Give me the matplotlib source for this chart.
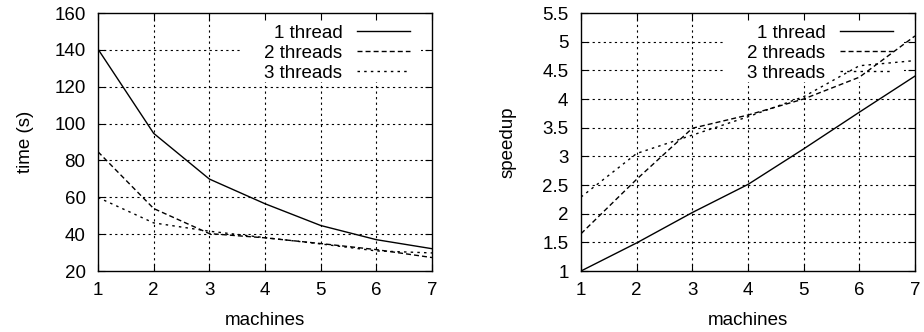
import matplotlib
matplotlib.use("Agg")
import matplotlib.pyplot as plt
from matplotlib.patches import Rectangle

plt.rcParams['font.family'] = ['Liberation Sans', 'DejaVu Sans']
plt.rcParams['font.size'] = 13.5

machines = [1, 2, 3, 4, 5, 6, 7]
labels = ["1 thread", "2 threads", "3 threads"]

time_1 = [140.4, 94.7, 69.9, 56.5, 44.7, 37.0, 32.1]
time_2 = [84.7, 53.9, 40.3, 38.0, 34.9, 31.6, 27.3]
time_3 = [59.9, 46.1, 41.6, 38.1, 34.7, 30.9, 29.8]

speed_1 = [1.0, 1.49, 2.02, 2.51, 3.13, 3.77, 4.40]
speed_2 = [1.65, 2.60, 3.49, 3.72, 4.00, 4.38, 5.10]
speed_3 = [2.29, 3.05, 3.37, 3.69, 4.04, 4.58, 4.67]

time_ticks = [20, 40, 60, 80, 100, 120, 140, 160]
speed_ticks = [1, 1.5, 2, 2.5, 3, 3.5, 4, 4.5, 5, 5.5]

styles = ['-', (0, (3.6, 2.2)), (0, (1.8, 3.0))]

W, H = 924, 332
fig = plt.figure(figsize=(W / 100, H / 100), dpi=100)

AX_TOP, AX_BOT = 13, 271
AX_W = 334

def make_ax(left_px):
    return fig.add_axes([left_px / W, 1 - AX_BOT / H,
                         AX_W / W, (AX_BOT - AX_TOP) / H])

ax1 = make_ax(98)
ax2 = make_ax(581)

grid_style = dict(color='black', linestyle=(0, (2, 3)), lw=0.8, zorder=1)

for ax, series, yticks, ylab, ylx in [
    (ax1, [time_1, time_2, time_3], time_ticks, "time (s)", (34 - 98) / AX_W),
    (ax2, [speed_1, speed_2, speed_3], speed_ticks, "speedup", (517 - 581) / AX_W),
]:
    for s, ls, lab in zip(series, styles, labels):
        ax.plot(machines, s, color='black', lw=1.0, linestyle=ls, label=lab, zorder=3)
    ax.set_xlim(machines[0], machines[-1])
    ax.set_ylim(yticks[0], yticks[-1])
    ax.set_xticks(machines)
    ax.set_yticks(yticks)
    ax.set_yticklabels([('%g' % v) for v in yticks])
    # grid drawn as separate lines so the key box can hide it but not the ticks
    for yv in yticks[1:-1]:
        ax.axhline(yv, **grid_style)
    for xv in machines[1:-1]:
        ax.axvline(xv, **grid_style)
    ax.tick_params(direction='in', top=True, right=True, length=5, width=0.8)
    ax.tick_params(axis='y', pad=9)
    ax.tick_params(axis='x', pad=8)
    for sp in ax.spines.values():
        sp.set_linewidth(1.0)
        sp.set_zorder(4)
    ax.set_xlabel("machines", labelpad=9)
    ax.set_ylabel(ylab)
    ax.yaxis.set_label_coords(ylx, 0.5)
    # white key box
    ax.add_patch(Rectangle(((240 - 98) / AX_W, 1 - (82 - AX_TOP) / (AX_BOT - AX_TOP)),
                           (421 - 240) / AX_W, (82 - AX_TOP) / (AX_BOT - AX_TOP),
                           transform=ax.transAxes, facecolor='white', edgecolor='none',
                           zorder=1.5))
    leg = ax.legend(loc='upper right',
                    bbox_to_anchor=((410 - 98) / AX_W, 1 - 11.6 / (AX_BOT - AX_TOP)),
                    markerfirst=False, frameon=False,
                    handlelength=2.85, handletextpad=0.75, labelspacing=0.15,
                    borderaxespad=0.0, borderpad=0.0)
    leg.set_zorder(2)
    for t in leg.get_texts():
        t.set_ha('right')

fig.savefig("out.png", dpi=100)
